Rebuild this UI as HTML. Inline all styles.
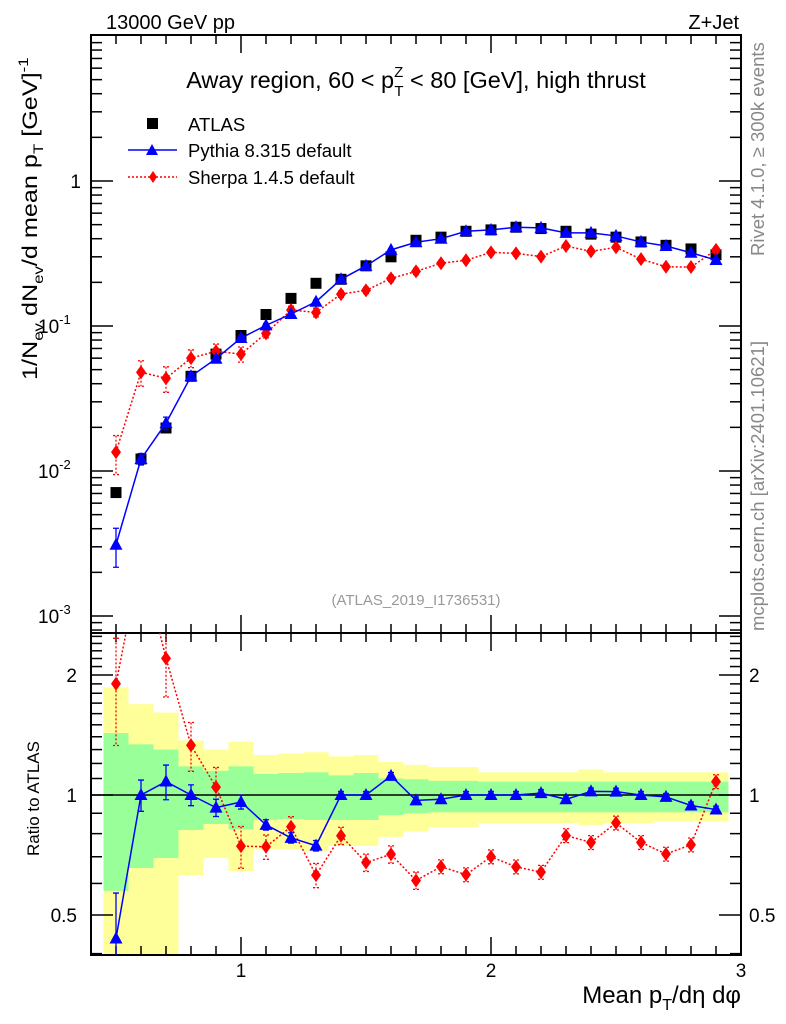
<!DOCTYPE html>
<html><head><meta charset="utf-8"><style>
body{margin:0;background:#fff;}
svg{display:block;font-family:"Liberation Sans",sans-serif;}
</style></head><body>
<svg id="c" width="786" height="1024" viewBox="0 0 786 1024" xmlns="http://www.w3.org/2000/svg">
<g id="bands"></g><g id="grid"></g><g id="series"></g>
<text x="106" y="29" font-size="20">13000 GeV pp</text>
<text x="739" y="29" font-size="20" text-anchor="end">Z+Jet</text>
<text x="416" y="88" font-size="23.5" text-anchor="middle">Away region, 60 &lt; p<tspan dy="-11" font-size="15">Z</tspan><tspan dx="-9" dy="19" font-size="15">T</tspan><tspan dy="-8"> &lt; 80 [GeV], high thrust</tspan></text>
<g>
<rect x="147" y="118" width="11" height="11" fill="#000"/>
<text x="188" y="131" font-size="18.5">ATLAS</text>
<line x1="128" y1="150" x2="177" y2="150" stroke="#00f" stroke-width="1.5"/>
<polygon points="152,144 158,155 146,155" fill="#00f"/>
<text x="188" y="157" font-size="18.5">Pythia 8.315 default</text>
<line x1="128" y1="177" x2="177" y2="177" stroke="#f00" stroke-width="1.5" stroke-dasharray="2,2"/>
<polygon points="153,171 157,177 153,183 149,177" fill="#f00"/>
<text x="188" y="184" font-size="18.5">Sherpa 1.4.5 default</text>
</g>
<text x="416" y="605" font-size="15" fill="#999" text-anchor="middle">(ATLAS_2019_I1736531)</text>
<text transform="translate(764,256) rotate(-90)" font-size="18.5" fill="#888">Rivet 4.1.0, ≥ 300k events</text>
<text transform="translate(764,631) rotate(-90)" font-size="18.5" fill="#888">mcplots.cern.ch [arXiv:2401.10621]</text>
<text transform="translate(37,380) rotate(-90) scale(1.2,1)" font-size="21">1/N<tspan dy="6" font-size="14">ev</tspan><tspan dy="-6"> dN</tspan><tspan dy="6" font-size="14">ev</tspan><tspan dy="-6">/d mean p</tspan><tspan dy="6" font-size="14">T</tspan><tspan dy="-6"> [GeV]</tspan><tspan dy="-9" font-size="14">-1</tspan></text>
<text transform="translate(39,856) rotate(-90)" font-size="17">Ratio to ATLAS</text>
<text x="741" y="1003" font-size="24" text-anchor="end">Mean p<tspan dy="7" font-size="16">T</tspan><tspan dy="-7">/dη dφ</tspan></text>
</svg>
<script>
const xs=[0.5,0.6,0.7,0.8,0.9,1.0,1.1,1.2,1.3,1.4,1.5,1.6,1.7,1.8,1.9,2.0,2.1,2.2,2.3,2.4,2.5,2.6,2.7,2.8,2.9];
const atlas=[0.0071,0.0121,0.0198,0.045,0.064,0.086,0.12,0.155,0.197,0.21,0.26,0.30,0.39,0.41,0.45,0.46,0.48,0.47,0.45,0.43,0.41,0.38,0.36,0.34,0.31];
const pythia=[0.0031,0.0121,0.0214,0.045,0.0595,0.0826,0.101,0.121,0.147,0.21,0.26,0.335,0.378,0.40,0.45,0.46,0.48,0.475,0.439,0.439,0.418,0.38,0.356,0.32,0.285];
const pythiaRelErr=[0.3,0.09,0.1,0.06,0.05,0.04,0.03,0.03,0.03,0.02,0.02,0.02,0.02,0.02,0.02,0.02,0.02,0.02,0.02,0.02,0.02,0.02,0.02,0.02,0.02];
const sherpa=[0.0135,0.048,0.0436,0.060,0.067,0.064,0.089,0.129,0.124,0.166,0.176,0.213,0.238,0.271,0.284,0.322,0.317,0.301,0.356,0.327,0.349,0.289,0.256,0.255,0.335];
const sherpaRelErr=[0.3,0.2,0.2,0.14,0.12,0.12,0.07,0.06,0.07,0.05,0.05,0.05,0.05,0.04,0.04,0.04,0.04,0.04,0.04,0.04,0.04,0.04,0.04,0.04,0.04];
const greenHi=[1.43,1.34,1.30,1.18,1.15,1.18,1.13,1.135,1.14,1.12,1.135,1.10,1.095,1.085,1.085,1.08,1.08,1.08,1.08,1.08,1.08,1.08,1.08,1.08,1.08];
const greenLo=[0.575,0.656,0.695,0.817,0.846,0.82,0.866,0.87,0.866,0.866,0.866,0.89,0.90,0.905,0.905,0.905,0.905,0.905,0.905,0.905,0.905,0.905,0.905,0.905,0.905];
const yellowHi=[1.86,1.69,1.61,1.37,1.30,1.36,1.26,1.27,1.28,1.25,1.26,1.21,1.19,1.175,1.175,1.14,1.14,1.14,1.14,1.16,1.14,1.14,1.14,1.14,1.14];
const yellowLo=[0.3,0.3,0.3,0.63,0.695,0.645,0.73,0.73,0.72,0.745,0.745,0.785,0.81,0.83,0.83,0.85,0.85,0.85,0.85,0.84,0.85,0.85,0.86,0.86,0.86];
const mainTicks=[1,0.1,0.01,0.001];
const mainTickLabels=["1","10^-1","10^-2","10^-3"];
const ratioTicks=[2,1,0.5];
const ratioTickLabels=["2","1","0.5"];
const xTicks=[1,2,3];
const xTickLabels=["1","2","3"];
const NS="http://www.w3.org/2000/svg";
const L=91,R=741,T=35,M=633,B=955;
const X=v=>L+(v-0.4)*250;
const Y=v=>181-145*Math.log10(v);
const RY=v=>Math.max(T+598,Math.min(B,795-120*Math.log2(v)));
const RYr=v=>795-120*Math.log2(v);
function el(p,t,a){const e=document.createElementNS(NS,t);for(const k in a)e.setAttribute(k,a[k]);p.appendChild(e);return e;}
const bands=document.getElementById('bands'),grid=document.getElementById('grid'),ser=document.getElementById('series');
xs.forEach((x,i)=>{
 const y1=RY(yellowHi[i]),y2=RY(yellowLo[i]);
 const r=el(bands,'rect',{x:X(x-0.05),y:y1,width:X(x+0.05)-X(x-0.05),height:y2-y1,fill:'#ffff99'});
 
 
});
xs.forEach((x,i)=>{
 const y1=RY(greenHi[i]),y2=RY(greenLo[i]);
 const r=el(bands,'rect',{x:X(x-0.05),y:y1,width:X(x+0.05)-X(x-0.05),height:y2-y1,fill:'#99ff99'});
 
 
});
el(grid,'line',{x1:L,x2:R,y1:795,y2:795,stroke:'#000','stroke-width':1.5});
el(grid,'rect',{x:L,y:T,width:R-L,height:M-T,fill:'none',stroke:'#000','stroke-width':2});
el(grid,'rect',{x:L,y:M,width:R-L,height:B-M,fill:'none',stroke:'#000','stroke-width':2});
for(let v=0.5;v<3.0;v+=0.1){const x=X(v);const maj=Math.abs(v-Math.round(v))<1e-6;const l=maj?18:9;
 [[T,T+l],[M,M-l],[M,M+l],[B,B-l]].forEach(([a,b])=>el(grid,'line',{x1:x,x2:x,y1:a,y2:b,stroke:'#000','stroke-width':1.5}));}
xTicks.forEach((v,i)=>{const t=el(grid,'text',{x:X(v),y:977,'font-size':19,'text-anchor':'middle'});t.textContent=xTickLabels[i];
 
 });
for(let d=-4;d<=0;d++)for(let m=1;m<10;m++){const v=m*Math.pow(10,d);const y=Y(v);if(y<T||y>M)continue;const l=m==1?22:11;
 el(grid,'line',{x1:L,x2:L+l,y1:y,y2:y,stroke:'#000','stroke-width':1.5});el(grid,'line',{x1:R,x2:R-l,y1:y,y2:y,stroke:'#000','stroke-width':1.5});}
mainTicks.forEach((v,i)=>{const y=Y(v);const p=mainTickLabels[i].split('^');
 const t=el(grid,'text',{x:p[1]?38:81,y:y+7,'font-size':19,'text-anchor':p[1]?'start':'end'});
 if(p[1]){t.textContent='10';const s=el(t,'tspan',{dy:-9,'font-size':13});s.textContent=p[1];}else t.textContent=p[0];
 
 });
[0.4,0.5,0.6,0.7,0.8,0.9,1,1.1,1.2,1.3,1.4,1.5,1.6,1.7,1.8,1.9,2,2.1,2.2,2.3,2.4,2.5].forEach(v=>{const y=RYr(v);if(y<M||y>B)return;const l=[0.5,1,2].includes(v)?22:11;
 el(grid,'line',{x1:L,x2:L+l,y1:y,y2:y,stroke:'#000','stroke-width':1.5});el(grid,'line',{x1:R,x2:R-l,y1:y,y2:y,stroke:'#000','stroke-width':1.5});});
ratioTicks.forEach((v,i)=>{const y=RYr(v);
 const t=el(grid,'text',{x:77,y:y+7,'font-size':19,'text-anchor':'end'});t.textContent=ratioTickLabels[i];
 
 
 const t2=el(grid,'text',{x:749,y:y+7,'font-size':19});t2.textContent=ratioTickLabels[i];
 
 });
const defs=el(ser,'defs',{});
const cp=el(defs,'clipPath',{id:'cm'});el(cp,'rect',{x:L,y:T,width:R-L,height:M-T});
const cr=el(defs,'clipPath',{id:'cr'});el(cr,'rect',{x:L,y:M,width:R-L,height:B-M});
const gm=el(ser,'g',{'clip-path':'url(#cm)'}),gr=el(ser,'g',{'clip-path':'url(#cr)'});
function tri(g,x,y,c){return el(g,'polygon',{points:`${x},${y-7} ${x+6.5},${y+5} ${x-6.5},${y+5}`,fill:c});}
function dia(g,x,y,c){return el(g,'polygon',{points:`${x},${y-7} ${x+5},${y} ${x},${y+7} ${x-5},${y}`,fill:c});}
function drawModel(g,vals,rel,yf,ratio,color,dash,shape,name){
 const v=vals.map((a,i)=>ratio?a/atlas[i]:a);
 const line=el(g,'polyline',{points:xs.map((x,i)=>X(x)+','+yf(v[i])).join(' '),fill:'none',stroke:color,'stroke-width':1.5});
 if(dash)line.setAttribute('stroke-dasharray','2,2');
 
 
 xs.forEach((x,i)=>{const hi=yf(v[i]*(1+rel[i])),lo=yf(v[i]*(1-rel[i]));
  const e=el(g,'path',{d:`M${X(x)},${hi}V${lo}M${X(x)-3},${hi}h6M${X(x)-3},${lo}h6`,stroke:color,'stroke-width':1.3,fill:'none'});
  if(dash)e.setAttribute('stroke-dasharray','2,2');
  const m=shape(g,X(x),yf(v[i]),color);
  
  });
}
xs.forEach((x,i)=>{const r=el(gm,'rect',{x:X(x)-5.5,y:Y(atlas[i])-5.5,width:11,height:11,fill:'#000'});
 
 });
drawModel(gm,sherpa,sherpaRelErr,Y,false,'#f00',true,dia,'sherpa');
drawModel(gm,pythia,pythiaRelErr,Y,false,'#00f',false,tri,'pythia');
drawModel(gr,sherpa,sherpaRelErr,RYr,true,'#f00',true,dia,'sherpa-ratio');
drawModel(gr,pythia,pythiaRelErr,RYr,true,'#00f',false,tri,'pythia-ratio');
</script>
</body></html>
